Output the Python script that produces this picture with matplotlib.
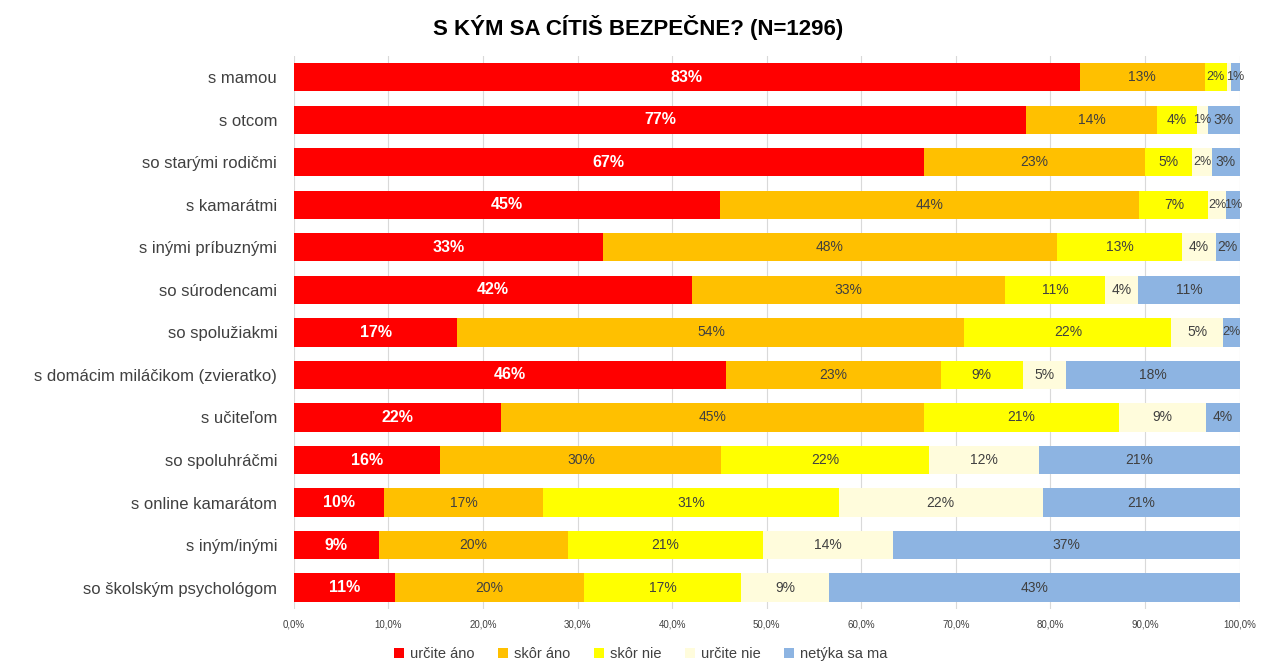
import matplotlib.pyplot as plt
import numpy as np

plt.rcParams['font.family'] = ['Liberation Sans', 'DejaVu Sans']

categories = ['s mamou', 's otcom', 'so starými rodičmi', 's kamarátmi',
              's inými príbuznými', 'so súrodencami', 'so spolužiakmi',
              's domácim miláčikom (zvieratko)', 's učiteľom', 'so spoluhráčmi',
              's online kamarátom', 's iným/inými', 'so školským psychológom']

urcite_ano = [83.1, 77.4, 66.6, 45.1, 32.7, 42.1, 17.3, 45.7, 21.9, 15.5, 9.5, 9.0, 10.7]
skor_ano   = [13.2, 13.9, 23.4, 44.3, 48.0, 33.1, 53.6, 22.7, 44.7, 29.7, 16.9, 20.0, 20.0]
skor_nie   = [2.4, 4.2, 5.0, 7.3, 13.2, 10.6, 21.9, 8.7, 20.7, 22.0, 31.2, 20.6, 16.6]
urcite_nie = [0.4, 1.2, 2.1, 1.9, 3.6, 3.5, 5.4, 4.6, 9.1, 11.6, 21.6, 13.8, 9.3]
netyka     = [0.9, 3.3, 2.9, 1.4, 2.5, 10.7, 1.8, 18.3, 3.6, 21.2, 20.8, 36.6, 43.4]

series = [('určite áno', urcite_ano, '#FF0000'),
          ('skôr áno', skor_ano, '#FFC000'),
          ('skôr nie', skor_nie, '#FFFF00'),
          ('určite nie', urcite_nie, '#FFFCDC'),
          ('netýka sa ma', netyka, '#8DB4E2')]

fig = plt.figure(figsize=(12.61, 6.61), dpi=100)
ax = fig.add_axes([0.233, 0.079, 0.750, 0.836])

y = np.arange(len(categories))
left = np.zeros(len(categories))
for i, (name, vals, col) in enumerate(series):
    vals = np.array(vals)
    bars = ax.barh(y, vals, left=left, height=0.66, color=col, label=name, zorder=2)
    for b, v in zip(bars, vals):
        if v < 0.5:
            continue
        cx = b.get_x() + b.get_width() / 2
        cy = b.get_y() + b.get_height() / 2
        if i == 0:
            ax.text(cx, cy, f'{v:.0f}%', ha='center', va='center',
                    color='white', fontsize=11.5, fontweight='bold', zorder=3)
        else:
            ax.text(cx, cy, f'{v:.0f}%', ha='center', va='center',
                    color='#404040', fontsize=10 if v >= 2.5 else 9, zorder=3)
    left += vals

ax.set_xlim(0, 100)
ax.set_ylim(len(categories) - 0.5, -0.5)
ax.set_yticks(y)
ax.set_yticklabels(categories, fontsize=12, color='#404040')
ticks = np.arange(0, 101, 10)
ax.set_xticks(ticks)
ax.set_xticklabels([f'{t:.1f}%'.replace('.', ',') for t in ticks], fontsize=7, color='#404040')
ax.tick_params(length=0, pad=8)
ax.tick_params(axis='y', pad=12)
ax.grid(axis='x', color='#D9D9D9', linewidth=0.8, zorder=0)
for s in ax.spines.values():
    s.set_visible(False)

fig.text(0.506, 0.958, 'S KÝM SA CÍTIŠ BEZPEČNE? (N=1296)', ha='center', va='center',
         fontsize=16, fontweight='bold', color='black')

fig.legend(loc='center', bbox_to_anchor=(0.508, 0.01), ncol=5, frameon=False, fontsize=10.5,
           handlelength=0.7, handleheight=0.7, handletextpad=0.4, columnspacing=1.6,
           labelcolor='#404040')

fig.savefig('out.png', dpi=100)
